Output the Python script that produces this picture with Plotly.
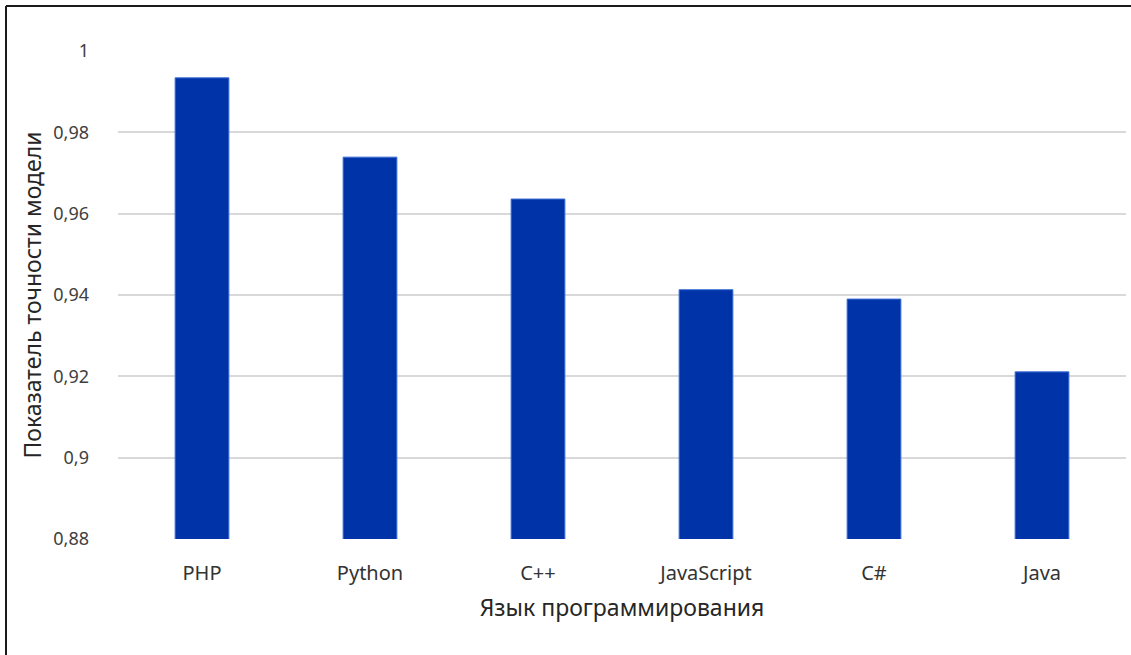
import plotly.graph_objects as go

languages = ["PHP", "Python", "C++", "JavaScript", "C#", "Java"]
accuracy = [0.9934, 0.9739, 0.9636, 0.9413, 0.9390, 0.9211]

L, R, T, B = 118, 5, 51, 116
W, H = 1131, 655
pw, ph = W - L - R, H - T - B

fig = go.Figure(go.Bar(
    x=languages, y=accuracy,
    marker=dict(color="#0033A8", line=dict(color="#3C6FD6", width=1)),
    width=0.32,
))

font_family = "Noto Sans, Open Sans, sans-serif"

fig.update_layout(
    width=W, height=H,
    margin=dict(l=L, r=R, t=T, b=B, pad=0),
    plot_bgcolor="white", paper_bgcolor="white",
    separators=", ",
    showlegend=False,
    font=dict(family=font_family, color="#595959", size=17),
    xaxis=dict(
        showgrid=False, zeroline=False, showline=False,
        ticks="", ticklabelstandoff=20,
        tickfont=dict(size=20, color="#333333"),
        title=dict(text="Язык программирования", standoff=14,
                   font=dict(size=23, color="#262626")),
    ),
    yaxis=dict(
        range=[0.88, 1.0], dtick=0.02, tick0=0.88,
        tickformat=".2~f",
        showgrid=True, gridcolor="#D9D9D9", gridwidth=2,
        zeroline=False, showline=False,
        ticks="", ticklabelstandoff=28,
        tickfont=dict(size=18, color="#404040"),
        title=dict(text="Показатель точности модели", standoff=5,
                   font=dict(size=23, color="#262626")),
    ),
)

# outer frame (top and left edges visible in reference)
x_left = (6 - L) / pw
x_right = (1131 - L) / pw
y_top = (H - B - 6) / ph
y_bot = (H - B - 660) / ph
fig.add_shape(type="line", xref="paper", yref="paper",
              x0=x_left, x1=x_right, y0=y_top, y1=y_top,
              line=dict(color="#1a1a1a", width=2))
fig.add_shape(type="line", xref="paper", yref="paper",
              x0=x_left, x1=x_left, y0=y_top, y1=y_bot,
              line=dict(color="#1a1a1a", width=2))

fig.write_html("out.html")
